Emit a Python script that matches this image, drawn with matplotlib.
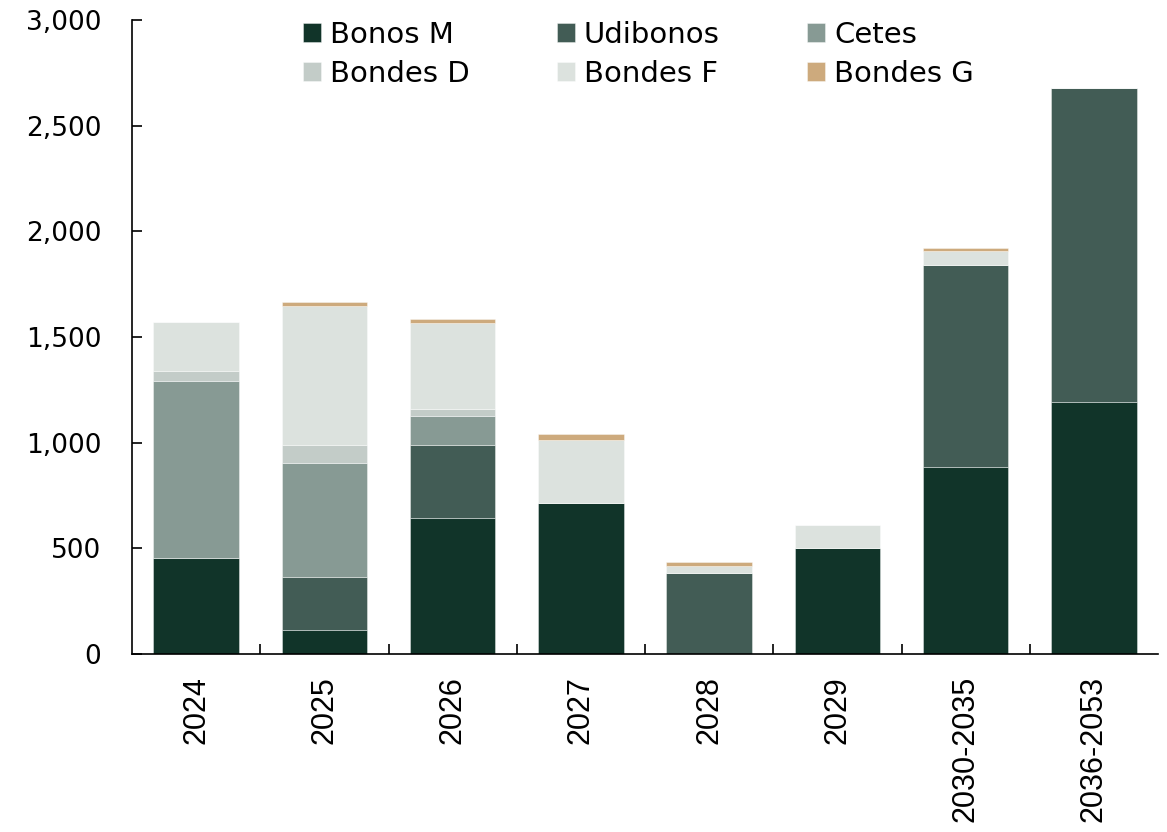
import numpy as np
import matplotlib
matplotlib.use('Agg')
import matplotlib.pyplot as plt
from matplotlib.ticker import FuncFormatter, FixedLocator

# data
categories = ['2024', '2025', '2026', '2027', '2028', '2029', '2030-2035', '2036-2053']
bonos_m   = [455, 115, 645, 716,   0, 502, 886, 1194]
udibonos  = [  0, 250, 346,   0, 384,   0, 953, 1486]
cetes     = [839, 540, 137,   0,   0,   0,   0,    0]
bondes_d  = [ 47,  86,  33,   0,   0,   0,   0,    0]
bondes_f  = [228, 654, 403, 298,  33, 109,  66,    0]
bondes_g  = [  0,  19,  19,  27,  19,   0,  15,    0]

series = [
    ('Bonos M', bonos_m, '#113429'),
    ('Udibonos', udibonos, '#425c55'),
    ('Cetes', cetes, '#879a94'),
    ('Bondes D', bondes_d, '#c3ccc8'),
    ('Bondes F', bondes_f, '#dce2de'),
    ('Bondes G', bondes_g, '#cdaa7d'),
]

fig = plt.figure(figsize=(11.67, 8.32), dpi=100)
ax = fig.add_axes([132/1167, 1 - 654/832, (1158 - 132)/1167, (654 - 20)/832])

x = np.arange(len(categories))
bottom = np.zeros(len(categories))
handles = {}
for name, vals, col in series:
    vals = np.array(vals, dtype=float)
    b = ax.bar(x, vals, width=0.665, bottom=bottom, color=col,
               edgecolor=(1, 1, 1, 0.45), linewidth=0.6, label=name)
    handles[name] = b
    bottom += vals

ax.set_xlim(-0.5, len(categories) - 0.5)
ax.set_ylim(0, 3000)
ax.set_yticks(np.arange(0, 3001, 500))
ax.yaxis.set_major_formatter(FuncFormatter(lambda v, p: f'{int(v):,}'))

ax.set_xticks(x)
ax.set_xticklabels(categories, rotation=90, family='Liberation Sans', fontsize=22, va='top')
ax.xaxis.set_minor_locator(FixedLocator(np.arange(0.5, len(categories) - 0.5, 1)))
ax.tick_params(axis='x', which='major', length=0, pad=16)
ax.tick_params(axis='x', which='minor', direction='in', length=7, width=1.2)
ax.tick_params(axis='y', direction='in', length=7, width=1.2, pad=22, labelsize=19)

for s in ['top', 'right']:
    ax.spines[s].set_visible(False)
for s in ['left', 'bottom']:
    ax.spines[s].set_linewidth(1.2)

order = ['Bonos M', 'Bondes D', 'Udibonos', 'Bondes F', 'Cetes', 'Bondes G']
fig.legend([handles[n] for n in order], order, ncol=3, loc='upper left',
           bbox_to_anchor=(303/1167, 1 - 21/832), frameon=False, fontsize=21,
           handlelength=0.62, handleheight=0.62, handletextpad=0.3,
           columnspacing=3.0, labelspacing=0.38, borderpad=0, borderaxespad=0)

fig.savefig('out.png', dpi=100)
